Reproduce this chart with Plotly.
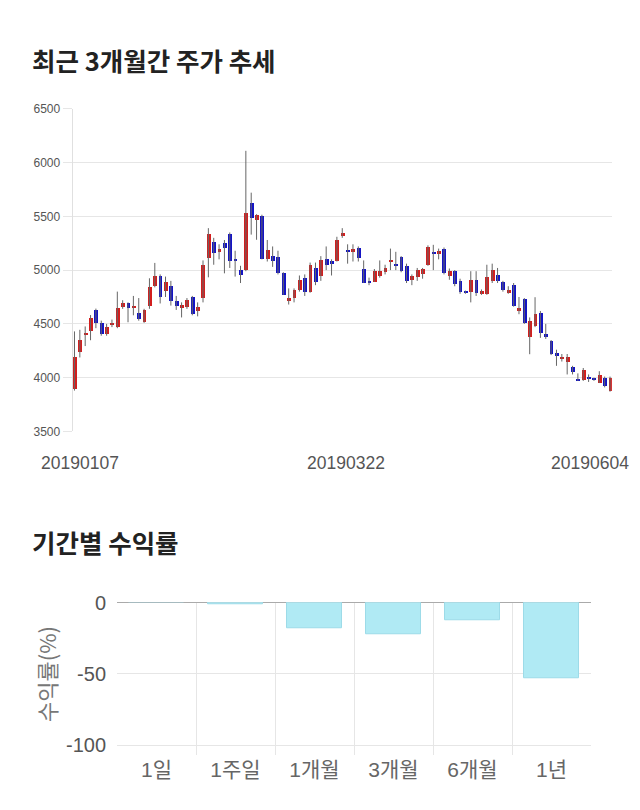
import pandas as pd
import plotly.graph_objects as go

# ---------------- data ----------------
holidays = ["2019-02-04", "2019-02-05", "2019-02-06", "2019-03-01", "2019-05-01", "2019-05-06"]
dates = [d.strftime("%Y%m%d") for d in pd.bdate_range("2019-01-07", "2019-06-04") if d.strftime("%Y-%m-%d") not in holidays]

opens = [3900, 4242, 4406, 4439, 4627, 4506, 4406, 4490, 4476, 4657,
         4694, 4648, 4606, 4521, 4664, 4854, 4948, 4806, 4858, 4715,
         4646, 4655, 4752, 4624, 4745, 5115, 5267, 5170, 5251, 5342,
         5106, 5006, 5000, 5630, 5464, 5509, 5106, 5136, 5124, 4979,
         4712, 4742, 4821, 4927, 4803, 5024, 4948, 5106, 5091, 5091,
         5321, 5191, 5173, 5212, 5015, 4900, 4894, 4952, 4985, 5082,
         5051, 5121, 5036, 4909, 4939, 4970, 5052, 5165, 5155, 5200,
         4950, 4992, 4903, 4803, 4797, 4909, 4782, 4782, 4897, 4958,
         4894, 4791, 4867, 4618, 4733, 4376, 4485, 4606, 4406, 4345,
         4227, 4182, 4148, 4097, 3985, 3985, 4009, 3997, 3955, 3997,
         3880]
highs = [4430, 4445, 4476, 4582, 4642, 4530, 4500, 4540, 4800, 4720,
         4700, 4760, 4740, 4640, 4924, 5067, 4960, 4940, 4900, 4760,
         4700, 4740, 4760, 4700, 5090, 5390, 5300, 5240, 5280, 5350,
         5180, 5040, 6109, 5720, 5520, 5515, 5280, 5220, 5180, 4980,
         4830, 4830, 4950, 4960, 5070, 5070, 5130, 5220, 5100, 5310,
         5390, 5240, 5240, 5220, 5090, 4930, 5010, 5090, 5050, 5200,
         5170, 5130, 5060, 4960, 5020, 5020, 5230, 5235, 5200, 5210,
         5015, 5000, 4920, 4810, 4990, 4990, 4820, 5050, 5060, 5020,
         4900, 4850, 4880, 4750, 4740, 4560, 4748, 4620, 4500, 4350,
         4260, 4220, 4220, 4110, 4040, 4090, 4030, 4000, 4060, 4010,
         4010]
lows = [3880, 4188, 4294, 4348, 4460, 4390, 4390, 4470, 4460, 4640,
        4515, 4580, 4530, 4510, 4640, 4840, 4690, 4750, 4670, 4630,
        4560, 4640, 4580, 4570, 4700, 4933, 5050, 5100, 4970, 5020,
        4940, 4880, 4990, 5330, 5282, 5100, 5080, 5030, 4960, 4770,
        4680, 4700, 4800, 4760, 4790, 4860, 4900, 5000, 4950, 5080,
        5300, 5060, 5080, 5080, 4880, 4860, 4890, 4930, 4960, 5000,
        5000, 4980, 4880, 4860, 4900, 4920, 5040, 5000, 5100, 4960,
        4910, 4850, 4780, 4780, 4700, 4760, 4770, 4770, 4880, 4880,
        4800, 4780, 4660, 4590, 4500, 4218, 4470, 4370, 4360, 4210,
        4110, 4150, 4030, 4030, 3970, 3970, 3960, 3970, 3950, 3910,
        3870]
closes = [4190, 4355, 4421, 4560, 4506, 4406, 4476, 4515, 4651, 4694,
          4648, 4673, 4551, 4627, 4845, 4945, 4752, 4888, 4715, 4670,
          4676, 4727, 4594, 4655, 5048, 5342, 5160, 5194, 5212, 5085,
          5085, 4955, 5533, 5485, 5518, 5106, 5185, 5085, 4973, 4773,
          4745, 4821, 4912, 4797, 5054, 4894, 5100, 5045, 5055, 5282,
          5348, 5176, 5203, 5115, 4885, 4890, 4994, 4994, 5024, 5097,
          5042, 4994, 4903, 4945, 5006, 5015, 5218, 5155, 5182, 4978,
          4992, 4872, 4797, 4791, 4912, 4788, 4812, 4942, 5000, 4903,
          4821, 4818, 4670, 4648, 4506, 4530, 4597, 4415, 4379, 4224,
          4212, 4197, 4194, 4052, 3976, 4073, 3997, 3982, 4030, 3921,
          3995]
price_ticks = [3500, 4000, 4500, 5000, 5500, 6000, 6500]
date_labels = ["20190107", "20190322", "20190604"]

periods = ["1일", "1주일", "1개월", "3개월", "6개월", "1년"]
returns = [0, -1.1, -17.7, -22.3, -12.5, -52.7]
return_ticks = [0, -50, -100]
return_tick_text = ["0", "-50", "-100"]

# ---------------- figure ----------------
W, H = 640, 810
RED, BLUE = "#d21f1f", "#1414c4"
NUM_FONT = "Liberation Sans, Arial, Noto Sans CJK KR"
KR_FONT = "Noto Sans CJK KR, sans-serif"

idx = list(range(len(dates)))
fig = go.Figure()

# wicks
wx, wy = [], []
for i, lo, hi in zip(idx, lows, highs):
    wx += [i, i, None]
    wy += [lo, hi, None]
fig.add_trace(go.Scatter(x=wx, y=wy, mode="lines", line=dict(color="#666666", width=1),
                         hoverinfo="skip", xaxis="x", yaxis="y"))

# bodies
base = [min(o, c) for o, c in zip(opens, closes)]
height = [max(abs(c - o), 8) for o, c in zip(opens, closes)]
colors = [RED if c >= o else BLUE for o, c in zip(opens, closes)]
fig.add_trace(go.Bar(x=idx, y=height, base=base, width=0.72, marker=dict(color=colors, line=dict(width=0)),
                     customdata=list(zip(dates, opens, highs, lows, closes)),
                     hovertemplate="%{customdata[0]}<br>O %{customdata[1]} H %{customdata[2]}<br>L %{customdata[3]} C %{customdata[4]}<extra></extra>",
                     xaxis="x", yaxis="y"))

# returns bars
fig.add_trace(go.Bar(x=periods, y=returns, width=0.7,
                     marker=dict(color="#b0eaf4", line=dict(color="#9ddbe8", width=1)),
                     xaxis="x2", yaxis="y2"))

def px_x(p):
    return p / W

def px_y(p):
    return 1 - p / H

fig.update_layout(
    width=W, height=H, margin=dict(l=0, r=0, t=0, b=0),
    paper_bgcolor="white", plot_bgcolor="white", showlegend=False, bargap=0,
    xaxis=dict(domain=[px_x(72.6), px_x(611.9)], range=[-0.35, len(dates) - 1 + 0.35],
               showgrid=False, zeroline=False, showticklabels=False, anchor="y", fixedrange=True),
    yaxis=dict(domain=[px_y(430), px_y(100)], range=[3500, 6500], tickvals=price_ticks,
               gridcolor="#e6e6e6", gridwidth=1, zeroline=False, showline=True, linecolor="#e0e0e0",
               ticks="outside", ticklen=9, tickcolor="#e6e6e6",
               tickfont=dict(family=NUM_FONT, size=12, color="#555555"), anchor="x"),
    xaxis2=dict(domain=[px_x(117), px_x(591)], type="category", range=[-0.5, 5.5],
                tickson="boundaries", showgrid=True, gridcolor="#e6e6e6", ticks="",
                tickfont=dict(family=NUM_FONT, size=21, color="#666666"), anchor="y2"),
    yaxis2=dict(domain=[px_y(761), px_y(604.7)], range=[-106.8, 0.2], tickvals=return_ticks,
                ticktext=return_tick_text,
                gridcolor="#e6e6e6", zeroline=True, zerolinecolor="#aaaaaa", zerolinewidth=1,
                ticks="outside", ticklen=6, tickcolor="rgba(0,0,0,0)",
                tickfont=dict(family=NUM_FONT, size=20, color="#555555"), anchor="x2"),
)

annotations = [
    dict(text="<b>최근 3개월간 주가 추세</b>", x=px_x(30), y=px_y(50), xref="paper", yref="paper",
         xanchor="left", yanchor="middle", showarrow=False,
         font=dict(family=KR_FONT, size=25.5, color="#222222")),
    dict(text="<b>기간별 수익률</b>", x=px_x(30), y=px_y(543), xref="paper", yref="paper",
         xanchor="left", yanchor="middle", showarrow=False,
         font=dict(family=KR_FONT, size=25.5, color="#222222")),
    dict(text="수익률(%)", x=px_x(46), y=px_y(678), xref="paper", yref="paper", textangle=-90,
         xanchor="center", yanchor="middle", showarrow=False,
         font=dict(family=KR_FONT, size=22, color="#777777")),
]
shifts = [5.5, 4, -20]
for lab, sh in zip(date_labels, shifts):
    annotations.append(dict(text=lab, x=dates.index(lab), xref="x", y=px_y(462), yref="paper",
                            xanchor="center", yanchor="middle", xshift=sh, showarrow=False,
                            font=dict(family=NUM_FONT, size=17.5, color="#555555")))
fig.update_layout(annotations=annotations)

fig.write_html("out.html")
